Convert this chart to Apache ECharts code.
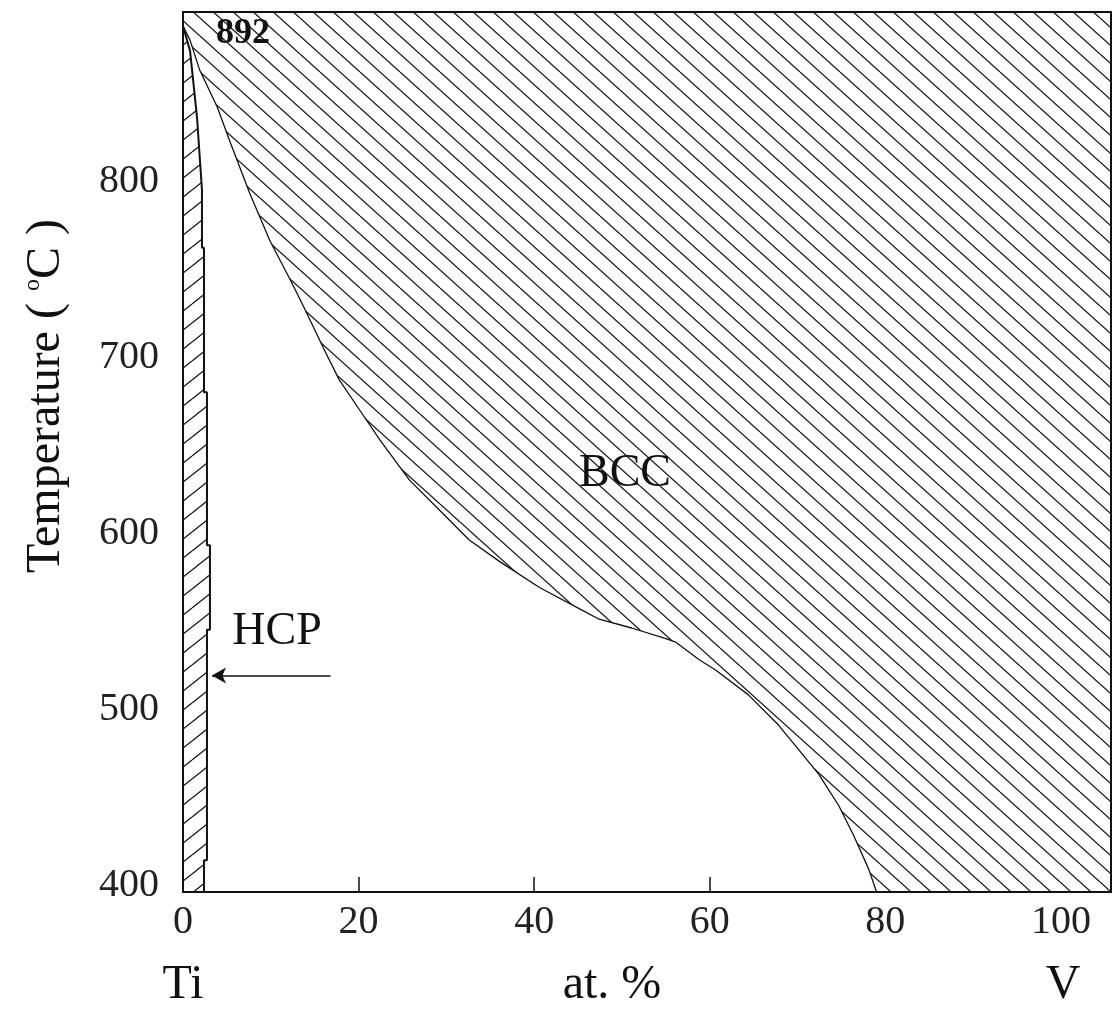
<!DOCTYPE html>
<html>
<head>
<meta charset="utf-8">
<script src="https://cdn.jsdelivr.net/npm/echarts@6/dist/echarts.min.js"></script>
<style>
  html, body { margin: 0; padding: 0; background: #fff; }
  #chart { width: 1114px; height: 1011px; }
</style>
</head>
<body>
<div id="chart"></div>
<script>
// axis ranges and tick labels
const X_MAX = 105.7;
const compTicks = [0, 20, 40, 60, 80, 100];
const tempTicks = [400, 500, 600, 700, 800];

// BCC transus line (at.% V, degC)
const bccX = [0, 0.8, 1.9, 3.9, 5.3, 7.6, 9.9, 12.2, 13.9, 16.1, 17.8, 20.1, 22.4, 25.8, 29.2, 32.6, 36.0, 40.6, 45.5, 47.4, 51.1, 55.0, 56.1, 58.8, 60.7, 64.4, 67.8, 70.1, 72.4, 74.7, 76.4, 78.1, 79.0];
const bccT = [892, 884, 867, 846, 827, 797, 770, 748, 731, 708, 691, 674, 657, 634, 617, 600, 588, 573, 560, 555, 550, 544, 542, 532, 526, 512, 495, 481, 467, 449, 432, 413, 400];

// HCP solvus (stepped)
const hcpX = [0, 0.8, 1.6, 2.16, 2.16, 2.39, 2.39, 2.73, 2.73, 3.07, 3.07, 2.73, 2.73, 2.39, 2.39];
const hcpT = [892, 878, 840, 799, 766, 766, 684, 684, 597, 597, 549, 549, 418, 418, 400];

// arrow pointing at the HCP field
const arrowX = [16.8, 3.3];
const arrowT = [523, 523];

const pairs = (xs, ys) => xs.map((x, i) => [x, ys[i]]);

// closed outlines of the hatched fields
const bccPoly = pairs(bccX, bccT).concat([[X_MAX, 400], [X_MAX, 900], [0, 900]]);
const hcpPoly = pairs(hcpX, hcpT).concat([[0, 400]]);

// hatch tiles
function hatch(w, h, up) {
    const c = document.createElement("canvas");
    c.width = w;
    c.height = h;
    const ctx = c.getContext("2d");
    ctx.fillStyle = "#fff";
    ctx.fillRect(0, 0, w, h);
    ctx.strokeStyle = "#111";
    ctx.lineWidth = 1.3;
    for (let k = -1; k <= 1; k++) {
        ctx.beginPath();
        if (up) {
            ctx.moveTo(0, h + k * h);
            ctx.lineTo(w, k * h);
        } else {
            ctx.moveTo(0, k * h);
            ctx.lineTo(w, h + k * h);
        }
        ctx.stroke();
    }
    return { image: c, repeat: "repeat" };
}
const bccPattern = hatch(20, 18, false);
const hcpPattern = hatch(24, 19, true);

function polySeries(points, pattern) {
    return {
        type: "custom",
        coordinateSystem: "cartesian2d",
        silent: true,
        data: points,
        encode: { x: 0, y: 1 },
        renderItem: function (params, api) {
            if (params.dataIndex !== 0) return;
            return {
                type: "polygon",
                shape: { points: points.map((p) => api.coord(p)) },
                style: { fill: pattern, stroke: null },
            };
        },
    };
}

const serif = "Liberation Serif";
const black = "#111";

const chart = echarts.init(document.getElementById("chart"), null, { renderer: "canvas" });

const option = {
    animation: false,
    backgroundColor: "#fff",
    grid: { left: 183, top: 12, width: 930, height: 880, show: false },
    xAxis: [
        {
            type: "value",
            min: 0,
            max: X_MAX,
            interval: 20,
            position: "bottom",
            axisLine: { show: true, lineStyle: { color: black, width: 2 } },
            axisTick: { show: true, inside: true, length: 15, lineStyle: { color: black, width: 1.5 } },
            axisLabel: {
                fontFamily: serif,
                fontSize: 40,
                color: "#222",
                margin: 10,
                formatter: (v) => (compTicks.includes(v) ? String(v) : ""),
            },
            splitLine: { show: false },
        },
        {
            type: "value", min: 0, max: X_MAX, position: "top", z: 10,
            axisLine: { show: true, onZero: false, lineStyle: { color: black, width: 2 } },
            axisTick: { show: false }, axisLabel: { show: false }, splitLine: { show: false },
        },
        {
            type: "value", min: 0, max: X_MAX, position: "bottom", z: 10,
            axisLine: { show: true, onZero: false, lineStyle: { color: black, width: 2 } },
            axisTick: { show: false }, axisLabel: { show: false }, splitLine: { show: false },
        },
    ],
    yAxis: [
        {
            type: "value",
            min: 400,
            max: 900,
            interval: 100,
            position: "left",
            axisLine: { show: true, onZero: false, lineStyle: { color: black, width: 2 } },
            axisTick: { show: false },
            axisLabel: {
                fontFamily: serif,
                fontSize: 40,
                color: "#222",
                margin: 24,
                verticalAlign: "bottom",
                lineHeight: 14,
                formatter: (v) => (tempTicks.includes(v) ? String(v) : ""),
            },
            splitLine: { show: false },
        },
        {
            type: "value", min: 400, max: 900, position: "right", z: 10,
            axisLine: { show: true, onZero: false, lineStyle: { color: black, width: 2 } },
            axisTick: { show: false }, axisLabel: { show: false }, splitLine: { show: false },
        },
        {
            type: "value", min: 400, max: 900, position: "left", z: 10,
            axisLine: { show: true, onZero: false, lineStyle: { color: black, width: 2 } },
            axisTick: { show: false }, axisLabel: { show: false }, splitLine: { show: false },
        },
    ],
    series: [
        polySeries(bccPoly, bccPattern),
        polySeries(hcpPoly, hcpPattern),
        {
            type: "line",
            data: pairs(bccX, bccT),
            showSymbol: false,
            silent: true,
            lineStyle: { color: black, width: 1.3 },
            z: 5,
        },
        {
            type: "line",
            data: pairs(hcpX, hcpT),
            showSymbol: false,
            silent: true,
            lineStyle: { color: black, width: 2 },
            z: 5,
        },
        {
            type: "line",
            data: [],
            silent: true,
            markLine: {
                silent: true,
                symbol: ["none", "arrow"],
                symbolSize: [12, 14],
                label: { show: false },
                lineStyle: { color: black, width: 1.5, type: "solid" },
                data: [[{ coord: [arrowX[0], arrowT[0]] }, { coord: [arrowX[1], arrowT[1]] }]],
            },
            z: 6,
        },
    ],
    graphic: [
        {
            type: "text", x: 243, y: 34, z: 20,
            style: { text: "892", font: "bold 36px " + serif, fill: black, align: "center", verticalAlign: "middle" },
        },
        {
            type: "text", x: 625, y: 474, z: 20,
            style: { text: "BCC", font: "46px " + serif, fill: black, align: "center", verticalAlign: "middle" },
        },
        {
            type: "text", x: 277, y: 632, z: 20,
            style: { text: "HCP", font: "46px " + serif, fill: black, align: "center", verticalAlign: "middle" },
        },
        {
            type: "text", x: 183, y: 985, z: 20,
            style: { text: "Ti", font: "48px " + serif, fill: black, align: "center", verticalAlign: "middle" },
        },
        {
            type: "text", x: 612, y: 985, z: 20,
            style: { text: "at. %", font: "48px " + serif, fill: black, align: "center", verticalAlign: "middle" },
        },
        {
            type: "text", x: 1063, y: 985, z: 20,
            style: { text: "V", font: "48px " + serif, fill: black, align: "center", verticalAlign: "middle" },
        },
        {
            type: "text", x: 46, y: 396, rotation: Math.PI / 2, z: 20,
            style: {
                text: "Temperature ( {sup|o}C )",
                font: "48px " + serif,
                fill: black,
                align: "center",
                verticalAlign: "middle",
                rich: {
                    sup: { fontFamily: serif, fontSize: 24, fill: black, padding: [0, 0, 26, 0] },
                },
            },
        },
    ],
};

chart.setOption(option);
</script>
</body>
</html>
